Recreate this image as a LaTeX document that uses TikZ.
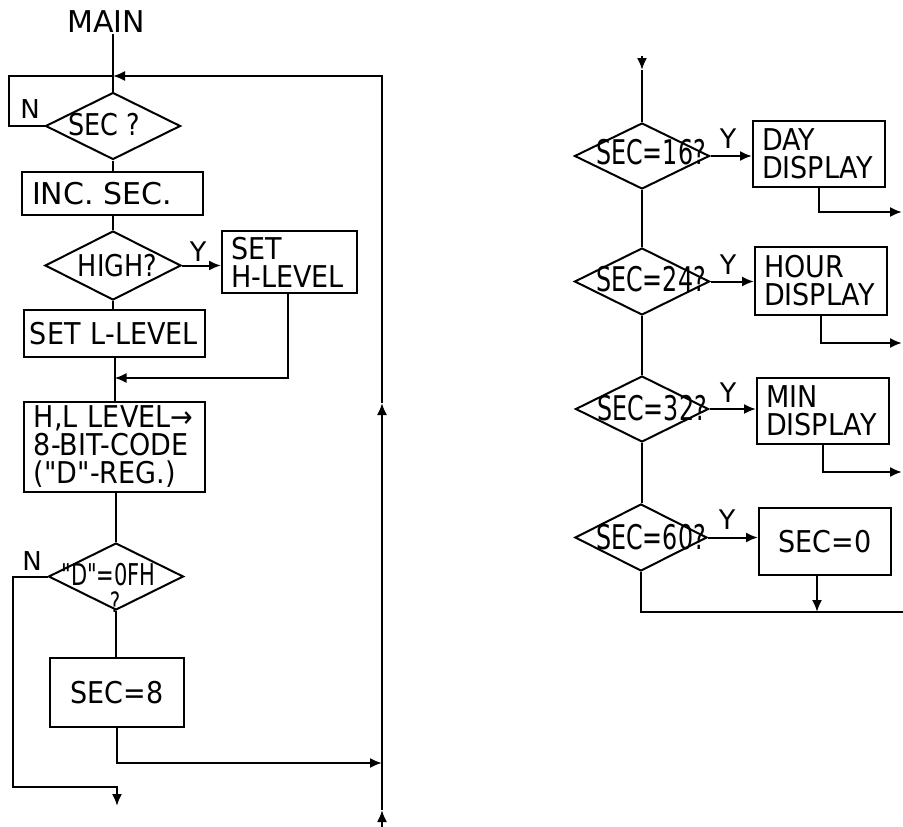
\documentclass[tikz,border=0pt]{standalone}
\usepackage{fontspec}
\setmainfont{DejaVu Sans}
\newfontfamily\bxf{DejaVu Sans}[FakeStretch=0.9]
\newfontfamily\dnf{DejaVu Sans}[FakeStretch=0.7]
\newfontfamily\dmf{DejaVu Sans}[FakeStretch=0.85]
\usetikzlibrary{shapes.geometric,arrows.meta}
\tikzset{
  dia/.style={draw, diamond, minimum width=135pt, minimum height=67pt, inner sep=0pt},
  box/.style={draw, rectangle, inner xsep=10pt, inner ysep=0pt, align=left,
              font=\bxf\fontsize{30}{28}\selectfont},
  tx/.style={inner sep=0pt},
  dtxt/.style={inner sep=0pt, font=\dnf\fontsize{34}{34}\selectfont},
  lbl/.style={inner sep=0pt, font=\fontsize{26}{26}\selectfont},
  arr/.style={-{Latex[length=12pt,width=10pt]}}
}
\begin{document}
\begin{tikzpicture}[x=1pt,y=-1pt,line width=2pt]
\useasboundingbox (0,0) rectangle (903,827);
% ---------------- left column ----------------
\node[tx, font=\fontsize{30}{30}\selectfont] (main) at (106,22) {MAIN};
\node[dia] (sec) at (113,126) {};
\node[tx, font=\dmf\fontsize{30}{30}\selectfont] (tsec) at (104,125) {SEC ?};
\node[box, font=\fontsize{30}{28}\selectfont, minimum width=181pt, minimum height=43pt, text width=161pt] (inc) at (112.5,193.5) {INC. SEC.};
\node[dia, minimum width=136pt, minimum height=69pt] (high) at (113,265.5) {};
\node[tx, font=\dmf\fontsize{30}{30}\selectfont] (thigh) at (117.5,266) {HIGH?};
\node[box, inner xsep=9pt, minimum width=135pt, minimum height=62pt, text width=117pt] (seth) at (289.5,262) {SET\\H-LEVEL};
\node[box, inner xsep=6pt, minimum width=181pt, minimum height=47pt, text width=169pt] (setl) at (114.5,333.5) {SET L-LEVEL};
\node[box, minimum width=181pt, minimum height=90pt, text width=161pt] (hl) at (114.5,447) {H,L LEVEL→\\8-BIT-CODE\\("D"-REG.)};
\node[dia] (dq) at (116,576.5) {};
\node[tx, font=\dnf\fontsize{30}{30}\selectfont] (tdqa) at (108.5,575) {"D"=0FH};
\node[tx, font=\dnf\fontsize{28}{28}\selectfont] (tdqb) at (115,602) {?};
\node[box, align=center, minimum width=134pt, minimum height=69pt, text width=114pt] (sec8) at (117,692.5) {SEC=8};

\node[lbl] (ln1) at (30,109) {N};
\node[lbl, font=\fontsize{27}{27}\selectfont] (ly1) at (198,252) {Y};
\node[lbl] (ln2) at (32,561) {N};

\coordinate (jtop) at (113,76);
\coordinate (tl) at (9,76);
\coordinate (bl) at (9,126);
\coordinate (tr) at (382,76);
\coordinate (ra2) at (382,403);
\coordinate (ra1) at (382,810);
\coordinate (br) at (382,827);
\coordinate (j2) at (114.5,378);
\coordinate (c2) at (288,378);
\coordinate (n1) at (13,576.5);
\coordinate (n2) at (13,787);
\coordinate (n3) at (117,787);
\coordinate (n4) at (117,806);
\coordinate (s1) at (117,763);
\coordinate (s2) at (382,763);

\draw (main.south -| sec.north) -- (sec.north);
\draw (sec.west) -- (bl) -- (tl) -- (jtop);
\draw[arr] (br) -- (ra1);
\draw[arr] (ra1) -- (ra2);
\draw[arr] (ra2) -- (tr) -- (jtop);
\draw (sec.south) -- (sec.south |- inc.north);
\draw (inc.south -| high.north) -- (high.north);
\draw[arr] (high.east) -- (high.east -| seth.west);
\draw (high.south) -- (high.south |- setl.north);
\draw (setl.south -| hl.north) -- (hl.north);
\draw[arr] (seth.south -| c2) -- (c2) -- (j2);
\draw (hl.south -| dq.north) -- (dq.north);
\draw[arr] (dq.west) -- (n1) -- (n2) -- (n3) -- (n4);
\draw (dq.south) -- (dq.south |- sec8.north);
\draw[arr] (sec8.south) -- (s1) -- (s2);

% ---------------- right column ----------------
\node[dia, minimum height=66pt] (d16) at (642,156) {};
\node[dtxt] (t16) at (651,152) {SEC=16?};
\node[box, minimum width=132pt, minimum height=66pt, text width=114pt, inner xsep=9pt] (day) at (819,154) {DAY\\DISPLAY};
\node[dia] (d24) at (642,281.5) {};
\node[dtxt] (t24) at (651,279) {SEC=24?};
\node[box, minimum width=132pt, minimum height=68pt, text width=114pt, inner xsep=9pt] (hour) at (821,281) {HOUR\\DISPLAY};
\node[dia, minimum width=133pt, minimum height=66pt] (d32) at (642,409) {};
\node[dtxt] (t32) at (652,408) {SEC=32?};
\node[box, minimum width=132pt, minimum height=66pt, text width=114pt, inner xsep=9pt] (min) at (823,411) {MIN\\DISPLAY};
\node[dia, minimum width=132pt, minimum height=67pt] (d60) at (641,537.5) {};
\node[dtxt] (t60) at (651,537) {SEC=60?};
\node[box, align=center, minimum width=132pt, minimum height=67pt, text width=112pt] (sec0) at (825,541.5) {SEC=0};

\node[lbl, font=\fontsize{27}{27}\selectfont] (ly2) at (728,139) {Y};
\node[lbl, font=\fontsize{27}{27}\selectfont] (ly3) at (728,265) {Y};
\node[lbl, font=\fontsize{27}{27}\selectfont] (ly4) at (728,393) {Y};
\node[lbl, font=\fontsize{27}{27}\selectfont] (ly5) at (727,520) {Y};

\coordinate (rt) at (642,56);
\coordinate (rta) at (642,70);
\coordinate (e1) at (902,212);
\coordinate (e2) at (902,343);
\coordinate (e3) at (902,472);
\coordinate (f1) at (641,612);
\coordinate (f2) at (903,612);
\coordinate (f3) at (817,612);

\draw[arr] (rt) -- (rta);
\draw (rta) -- (d16.north);
\draw[arr] (d16.east) -- (d16.east -| day.west);
\draw[arr] (day.south) -- (day.south |- e1) -- (e1);
\draw (d16.south) -- (d24.north -| d16.south);
\draw[arr] (d24.east) -- (d24.east -| hour.west);
\draw[arr] (hour.south) -- (hour.south |- e2) -- (e2);
\draw (d24.south) -- (d24.south |- d32.north);
\draw[arr] (d32.east) -- (d32.east -| min.west);
\draw[arr] (min.south) -- (min.south |- e3) -- (e3);
\draw (d32.south) -- (d32.south |- d60.north);
\draw[arr] (d60.east) -- (d60.east -| sec0.west);
\draw (d60.south) -- (f1) -- (f2);
\draw[arr] (sec0.south -| f3) -- (f3);
\end{tikzpicture}
\end{document}
